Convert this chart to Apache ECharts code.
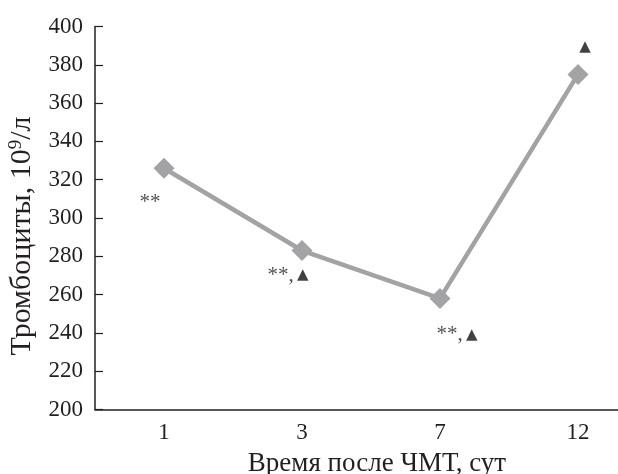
<!DOCTYPE html>
<html>
<head>
<meta charset="utf-8">
<script src="https://cdn.jsdelivr.net/npm/echarts@6/dist/echarts.min.js"></script>
<style>
  html, body { margin: 0; padding: 0; background: #fff; }
  #chart { width: 618px; height: 474px; }
</style>
</head>
<body>
<div id="chart"></div>
<script>
// данные
const days = ['1', '3', '7', '12'];
const platelets = [326, 283, 258, 375];
const yTicks = [200, 220, 240, 260, 280, 300, 320, 340, 360, 380, 400];

// пометки значимости
const noteTexts = ['{s|**}', '{s|**,} {t|▲}', '{s|**,} {t|▲}', '{t|▲}'];
const noteValues = [308, 270, 239, 389];
const noteShiftX = [-14, -14, 17, 7];

const serif = '"Liberation Serif", "DejaVu Serif", serif';
const ink = '#231f20';

const chart = echarts.init(document.getElementById('chart'));

const option = {
  backgroundColor: '#fff',
  animation: false,
  grid: {
    left: 95,
    top: 26.5,
    width: 552,
    height: 383,
    containLabel: false,
    outerBoundsMode: 'none'
  },
  xAxis: {
    type: 'category',
    data: days,
    boundaryGap: true,
    name: 'Время после ЧМТ, сут',
    nameLocation: 'middle',
    nameGap: 41,
    nameTextStyle: { fontFamily: serif, fontSize: 27, color: ink, padding: [0, 0, 0, 12] },
    axisLine: { lineStyle: { color: ink, width: 1.5 } },
    axisTick: { inside: true, length: 8, lineStyle: { color: ink, width: 1.2 } },
    axisLabel: { fontFamily: serif, fontSize: 23, color: ink, margin: 12 }
  },
  yAxis: {
    type: 'value',
    min: yTicks[0],
    max: yTicks[yTicks.length - 1],
    interval: yTicks[1] - yTicks[0],
    name: '{n|Тромбоциты, 10}{sup|9}{n|/л}',
    nameLocation: 'middle',
    nameGap: 52,
    nameRotate: 90,
    nameTextStyle: {
      color: ink,
      padding: [0, 36, 0, 0],
      rich: {
        n: { fontFamily: serif, fontSize: 30, color: ink },
        sup: { fontFamily: serif, fontSize: 19, color: ink, verticalAlign: 'top', padding: [0, 0, 13, 0] }
      }
    },
    axisLine: { show: true, lineStyle: { color: ink, width: 1.5 } },
    axisTick: { show: true, inside: true, length: 8, lineStyle: { color: ink, width: 1.2 } },
    axisLabel: { fontFamily: serif, fontSize: 23, color: ink, margin: 12 },
    splitLine: { show: false }
  },
  series: [
    {
      type: 'line',
      data: platelets,
      symbol: 'diamond',
      symbolSize: 21,
      lineStyle: { color: '#a3a3a6', width: 4.5 },
      itemStyle: { color: '#a3a3a6' },
      z: 2
    },
    {
      type: 'scatter',
      data: noteValues.map((v, i) => [i, v]),
      symbolSize: 0,
      silent: true,
      label: {
        show: true,
        position: 'inside',
        formatter: p => noteTexts[p.dataIndex],
        color: ink,
        rich: {
          s: { fontFamily: serif, fontSize: 21, color: ink },
          t: { fontFamily: '"DejaVu Sans", sans-serif', fontSize: 15, color: '#111' }
        }
      },
      labelLayout: p => ({ dx: noteShiftX[p.dataIndex] }),
      z: 3
    }
  ]
};

chart.setOption(option);
</script>
</body>
</html>
